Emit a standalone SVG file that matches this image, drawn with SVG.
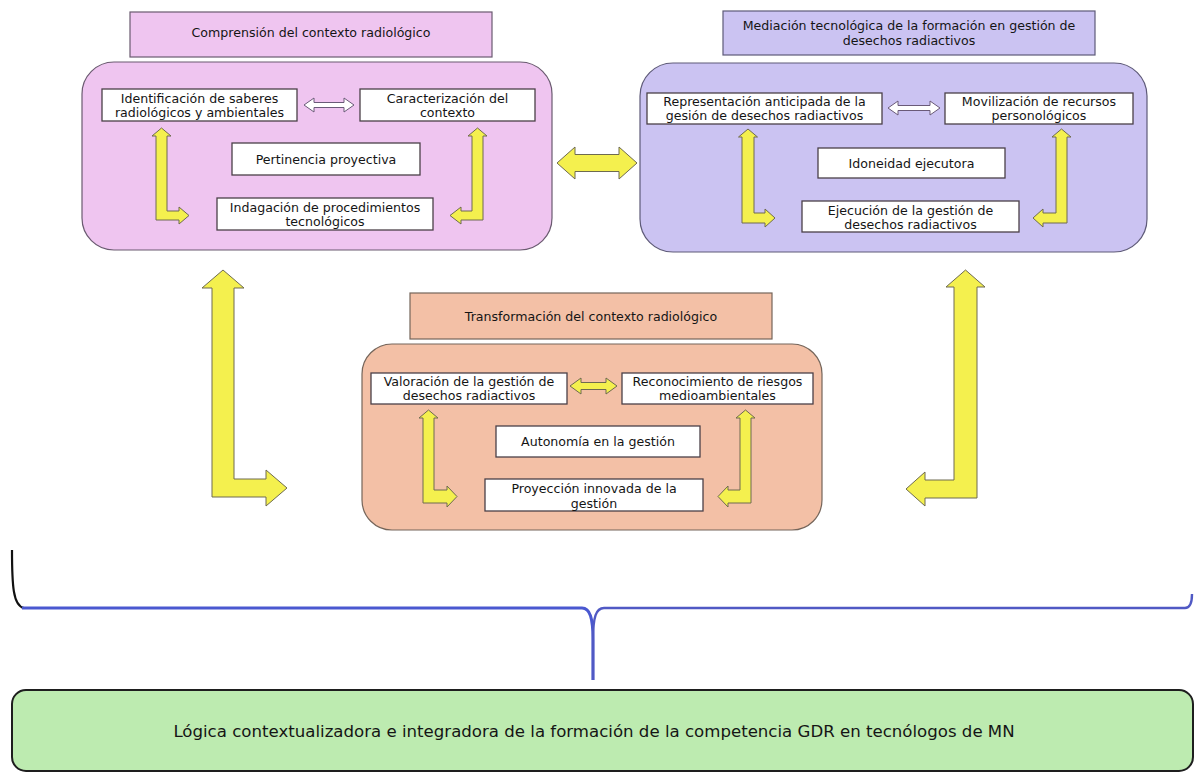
<svg xmlns="http://www.w3.org/2000/svg" width="1194" height="773" viewBox="0 0 1194 773">
<style>
text{font-family:"DejaVu Sans","Liberation Sans",sans-serif;fill:#151515;text-anchor:middle}
.t{font-size:12.6px}
.b{font-size:16.6px}
.pA{fill:#efc5f0;stroke:#6a5a70;stroke-width:1.2}
.pB{fill:#cbc3f2;stroke:#5e5a78;stroke-width:1.2}
.pC{fill:#f3c0a6;stroke:#75655a;stroke-width:1.2}
.box{fill:#ffffff;stroke:#4a4048;stroke-width:1.3}
.ya{fill:#f4f04e;stroke:#6e6a50;stroke-width:1}
.wa{fill:#ffffff;stroke:#6a5a78;stroke-width:1}
</style>
<rect width="1194" height="773" fill="#ffffff"/>

<g id="connectors">
  <path class="ya" d="M557,163 L575,147 L575,154.5 L619,154.5 L619,147 L637,163 L619,179 L619,171.5 L575,171.5 L575,179 Z"/>
  <path class="ya" d="M223,270 L244,288 L234,288 L234,479 L266,479 L266,470 L287,488 L266,506 L266,497 L212,497 L212,288 L202,288 Z"/>
  <path class="ya" d="M965.5,270 L985,287 L977,287 L977,498 L925,498 L925,506 L906,489 L925,472 L925,480 L954,480 L954,287 L946,287 Z"/>
  <path d="M12,550 C12,585 13,606 24,608" fill="none" stroke="#111" stroke-width="2.2"/>
  <path d="M22,608 L582,608 C590,608 593,618 593,640 L593,680" fill="none" stroke="#4a58d0" stroke-width="3"/>
  <path d="M593,680 L593,640 C593,617 596,608 604,608 L1185,608 C1190,608 1192,603 1192,594" fill="none" stroke="#5059c4" stroke-width="2.4"/>
</g>

<g id="comprension">
  <rect class="pA" x="130" y="12" width="362" height="45"/>
  <text class="t" x="311" y="37">Comprensión del contexto radiológico</text>
  <rect class="pA" x="82" y="62" width="470" height="188" rx="32"/>
</g>
<g id="identificacion">
  <rect class="box" x="102" y="89" width="195" height="32"/>
  <text class="t" x="199.5" y="103">Identificación de saberes</text>
  <text class="t" x="199.5" y="117">radiológicos y ambientales</text>
</g>
<g id="caracterizacion">
  <rect class="box" x="360" y="89" width="175" height="32"/>
  <text class="t" x="447.5" y="103">Caracterización del</text>
  <text class="t" x="447.5" y="117">contexto</text>
</g>
<g id="pertinencia">
  <rect class="box" x="232" y="143" width="188" height="32"/>
  <text class="t" x="326" y="164">Pertinencia proyectiva</text>
</g>
<g id="indagacion">
  <rect class="box" x="217" y="198" width="216" height="32"/>
  <text class="t" x="325" y="212">Indagación de procedimientos</text>
  <text class="t" x="325" y="226">tecnológicos</text>
</g>
<g id="arrowsA">
  <path class="wa" d="M304,105 L314,98 L314,102.5 L344,102.5 L344,98 L354,105 L344,112 L344,107.5 L314,107.5 L314,112 Z"/>
  <path class="ya" d="M161.5,128 L171,136 L167,136 L167,211 L179,211 L179,207 L189,215.5 L179,224 L179,220 L156,220 L156,136 L152,136 Z"/>
  <path class="ya" d="M477.5,128 L487,136 L483,136 L483,220 L461,220 L461,224 L450,215.5 L461,207 L461,211 L472,211 L472,136 L468,136 Z"/>
</g>

<g id="mediacion">
  <rect class="pB" x="723" y="11" width="372" height="44"/>
  <text class="t" x="909" y="30">Mediación tecnológica de la formación en gestión de</text>
  <text class="t" x="909" y="45">desechos radiactivos</text>
  <rect class="pB" x="640" y="63" width="507" height="189" rx="33"/>
</g>
<g id="representacion">
  <rect class="box" x="647" y="93" width="235" height="31"/>
  <text class="t" x="764.5" y="106">Representación anticipada de la</text>
  <text class="t" x="764.5" y="120">gesión de desechos radiactivos</text>
</g>
<g id="movilizacion">
  <rect class="box" x="945" y="93" width="188" height="31"/>
  <text class="t" x="1039" y="106">Movilización de recursos</text>
  <text class="t" x="1039" y="120">personológicos</text>
</g>
<g id="idoneidad">
  <rect class="box" x="818" y="148" width="187" height="30"/>
  <text class="t" x="911.5" y="168">Idoneidad ejecutora</text>
</g>
<g id="ejecucion">
  <rect class="box" x="802" y="201" width="217" height="31"/>
  <text class="t" x="910.5" y="215">Ejecución de la gestión de</text>
  <text class="t" x="910.5" y="229">desechos radiactivos</text>
</g>
<g id="arrowsB">
  <path class="wa" d="M888,108 L898,101 L898,105.5 L930,105.5 L930,101 L940,108 L930,115 L930,110.5 L898,110.5 L898,115 Z"/>
  <path class="ya" d="M748,129 L757.5,137 L754,137 L754,213 L765,213 L765,209 L775,218 L765,227 L765,223 L742,223 L742,137 L738.5,137 Z"/>
  <path class="ya" d="M1061.5,129 L1071,137 L1067,137 L1067,223 L1043,223 L1043,227 L1033,218 L1043,209 L1043,213 L1056,213 L1056,137 L1052,137 Z"/>
</g>

<g id="transformacion">
  <rect class="pC" x="410" y="293" width="362" height="46"/>
  <text class="t" x="591" y="321">Transformación del contexto radiológico</text>
  <rect class="pC" x="362" y="344" width="460" height="186" rx="30"/>
</g>
<g id="valoracion">
  <rect class="box" x="371" y="373" width="196" height="31"/>
  <text class="t" x="469" y="386">Valoración de la gestión de</text>
  <text class="t" x="469" y="400">desechos radiactivos</text>
</g>
<g id="reconocimiento">
  <rect class="box" x="622" y="373" width="191" height="31"/>
  <text class="t" x="717.5" y="386">Reconocimiento de riesgos</text>
  <text class="t" x="717.5" y="400">medioambientales</text>
</g>
<g id="autonomia">
  <rect class="box" x="496" y="426" width="204" height="31"/>
  <text class="t" x="598" y="446">Autonomía en la gestión</text>
</g>
<g id="proyeccion">
  <rect class="box" x="485" y="479" width="218" height="32"/>
  <text class="t" x="594" y="493">Proyección innovada de la</text>
  <text class="t" x="594" y="508">gestión</text>
</g>
<g id="arrowsC">
  <path class="ya" d="M570,386 L581,378 L581,382.5 L606,382.5 L606,378 L617,386 L606,394 L606,389.5 L581,389.5 L581,394 Z"/>
  <path class="ya" d="M428.5,410 L438,418 L434,418 L434,490 L447,490 L447,486 L457,496.5 L447,507 L447,503 L423,503 L423,418 L419,418 Z"/>
  <path class="ya" d="M745.5,410 L755,418 L751,418 L751,503 L728,503 L728,507 L718,496.5 L728,486 L728,490 L740,490 L740,418 L736,418 Z"/>
</g>

<g id="logica">
  <rect x="12" y="690" width="1181" height="81" rx="14" fill="#bdebb0" stroke="#1e1e1e" stroke-width="2"/>
  <text class="b" x="594" y="737">Lógica contextualizadora e integradora de la formación de la competencia GDR en tecnólogos de MN</text>
</g>
</svg>
